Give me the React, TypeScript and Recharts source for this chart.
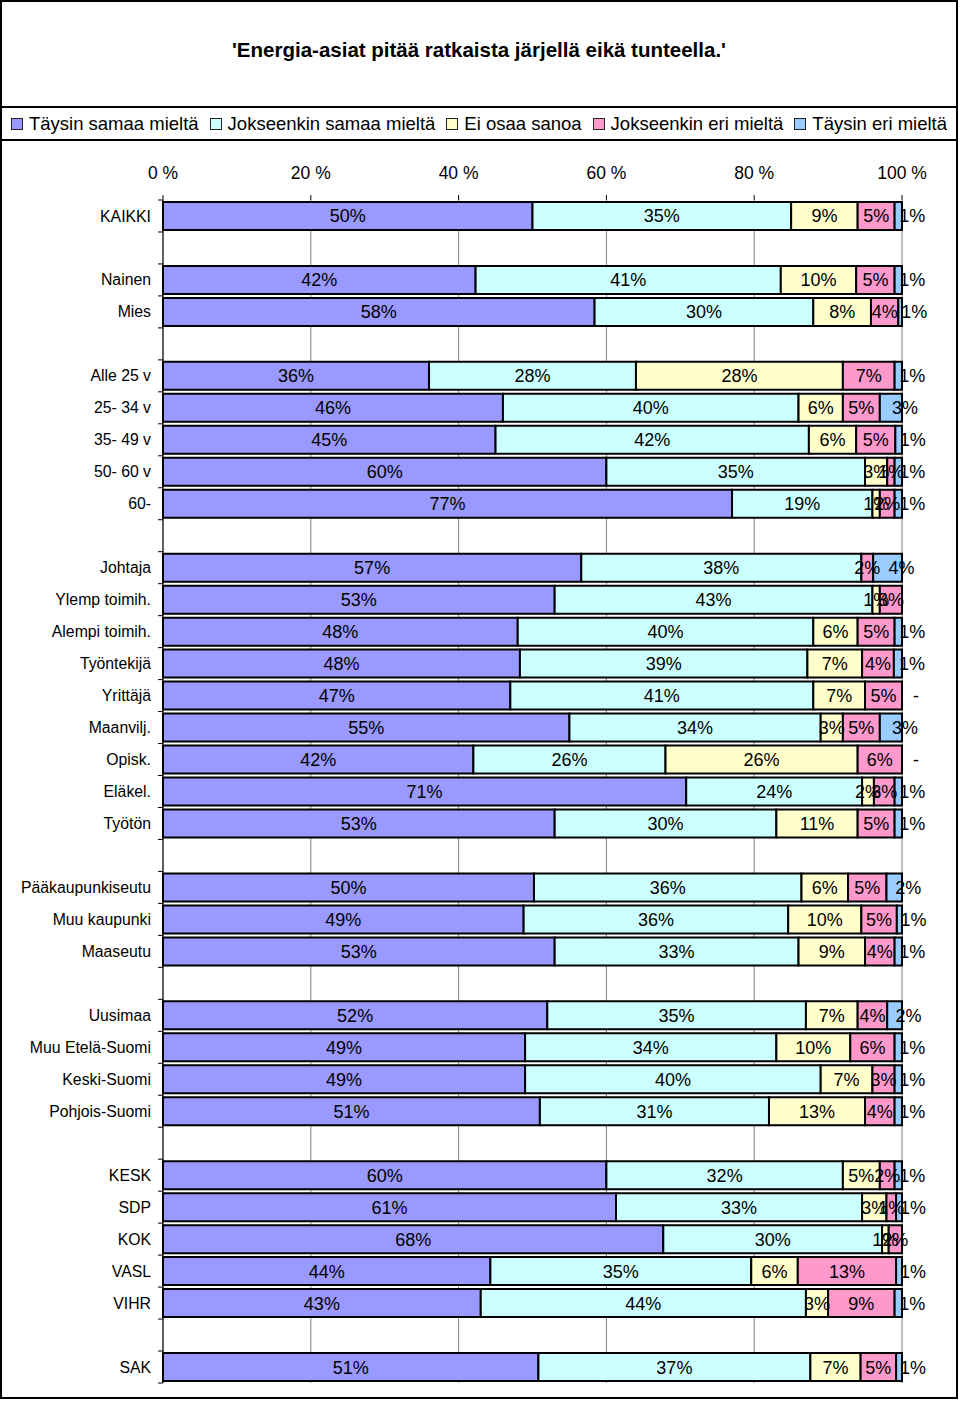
import React from 'react'
import { BarChart, Bar, XAxis, YAxis, CartesianGrid, Legend, LabelList } from 'recharts'

const FONT = '"Liberation Sans", Arial, sans-serif'

const CATEGORIES = [
  'KAIKKI', '',
  'Nainen', 'Mies', '',
  'Alle 25 v', '25- 34 v', '35- 49 v', '50- 60 v', '60-', '',
  'Johtaja', 'Ylemp toimih.', 'Alempi toimih.', 'Työntekijä', 'Yrittäjä', 'Maanvilj.', 'Opisk.', 'Eläkel.', 'Työtön', '',
  'Pääkaupunkiseutu', 'Muu kaupunki', 'Maaseutu', '',
  'Uusimaa', 'Muu Etelä-Suomi', 'Keski-Suomi', 'Pohjois-Suomi', '',
  'KESK', 'SDP', 'KOK', 'VASL', 'VIHR', '',
  'SAK',
]

// shares in %, estimated from the bars (labels show them rounded)
const TAYSIN_SAMAA = [50, null, 42.3, 58.4, null, 36, 46, 45.0, 60, 77, null, 56.6, 53, 48, 48.3, 47, 55, 42, 70.8, 53, null, 50.2, 48.8, 53, null, 52, 49, 49, 51, null, 60, 61.3, 67.7, 44.3, 43, null, 50.8]
const JOKSEENKIN_SAMAA = [35, null, 41.3, 29.6, null, 28, 40, 42.4, 35, 19, null, 37.9, 43, 40, 38.9, 41, 34, 26, 23.8, 30, null, 36.2, 35.8, 33, null, 35, 34, 40, 31, null, 32, 33.3, 29.6, 35.3, 44, null, 36.8]
const EI_OSAA = [9, null, 10.2, 7.8, null, 28, 6, 6.4, 3, 1, null, null, 1, 6, 7.4, 7, 3, 26, 1.6, 11, null, 6.3, 9.9, 9, null, 7, 10, 7, 13, null, 5, 3.3, 0.9, 6.3, 3, null, 6.8]
const JOKSEENKIN_ERI = [5, null, 5.2, 3.7, null, 7, 5, 5.3, 1, 2, null, 1.6, 3, 5, 4.3, 5, 5, 6, 2.8, 5, null, 5.2, 4.8, 4, null, 4, 6, 3, 4, null, 2, 1.3, 1.8, 13.3, 9, null, 4.8]
const TAYSIN_ERI = [1, null, 1.0, 0.5, null, 1, 3, 0.9, 1, 1, null, 3.9, null, 1, 1.1, 0, 3, 0, 1.0, 1, null, 2.1, 0.7, 1, null, 2, 1, 1, 1, null, 1, 0.8, null, 0.8, 1, null, 0.8]

const X_TICKS = [0, 0.2, 0.4, 0.6, 0.8, 1]

const SERIES = [
  { key: 's1', name: 'Täysin samaa mieltä', color: '#9999FF', values: TAYSIN_SAMAA },
  { key: 's2', name: 'Jokseenkin samaa mieltä', color: '#CCFFFF', values: JOKSEENKIN_SAMAA },
  { key: 's3', name: 'Ei osaa sanoa', color: '#FFFFCC', values: EI_OSAA },
  { key: 's4', name: 'Jokseenkin eri mieltä', color: '#FF99CC', values: JOKSEENKIN_ERI },
  { key: 's5', name: 'Täysin eri mieltä', color: '#99CCFF', values: TAYSIN_ERI },
]

const data = CATEGORIES.map((name, i) => {
  const row: any = { key: `r${i}`, name }
  SERIES.forEach((s) => { row[s.key] = s.values[i] })
  return row
})

const CHART_W = 954
const CHART_H = 1289
const MARGIN = { top: 0, right: 54, left: 0, bottom: 14 }
const LEGEND_H = 33
const X_AXIS_H = 59
const PLOT_TOP = MARGIN.top + LEGEND_H + X_AXIS_H
const PLOT_H = CHART_H - MARGIN.bottom - PLOT_TOP
const BAND = PLOT_H / CATEGORIES.length
const LAST_SHIFT = 14

const CategoryTick = (props: any) => {
  const { x, y, payload } = props
  const idx = Number(String(payload.value).slice(1))
  const last = idx === CATEGORIES.length - 1
  return (
    <g>
      <line x1={x - 5} x2={x} y1={y - BAND / 2} y2={y - BAND / 2} stroke="#000" />
      {last && <line x1={x - 5} x2={x} y1={y + BAND / 2} y2={y + BAND / 2} stroke="#000" />}
      <text x={x - 12} y={y} dy="0.35em" textAnchor="end" fontSize={15.8} fontFamily={FONT} fill="#000">
        {CATEGORIES[idx]}
      </text>
    </g>
  )
}

const valueText = (v: number) => (v === 0 ? '-' : `${Math.round(v)}%`)

const makeLabel = (seriesIdx: number) => (p: any) => {
  const vb = p.viewBox && p.viewBox.width !== undefined ? p.viewBox : p
  const { x, y, width, height } = vb
  if (x === undefined || y === undefined) return null
  const cy = y + height / 2
  const row = Math.floor((cy - PLOT_TOP) / BAND)
  const v = SERIES[seriesIdx].values[row]
  if (v === null || v === undefined) return null
  const isLast = seriesIdx === SERIES.length - 1
  // a zero-width last segment draws no bar, so its "-" label hangs off the segment before it
  const nextZero = seriesIdx === SERIES.length - 2 && SERIES[seriesIdx + 1].values[row] === 0
  const common = { dy: '0.36em', textAnchor: 'middle' as const, fontSize: 18, fontFamily: FONT, fill: '#000' }
  return (
    <g>
      <text x={x + width / 2 + (isLast ? LAST_SHIFT : 0)} y={cy} {...common}>
        {valueText(v)}
      </text>
      {nextZero && (
        <text x={x + width + LAST_SHIFT} y={cy} {...common}>
          {valueText(0)}
        </text>
      )}
    </g>
  )
}

const LegendBox = () => (
  <div
    style={{
      height: LEGEND_H,
      boxSizing: 'border-box',
      borderBottom: '2px solid #000',
      display: 'flex',
      alignItems: 'center',
      justifyContent: 'center',
      fontFamily: FONT,
      fontSize: 18.5,
      color: '#000',
      whiteSpace: 'nowrap',
    }}
  >
    {SERIES.map((s, i) => (
      <span key={s.key} style={{ display: 'flex', alignItems: 'center', marginRight: i < SERIES.length - 1 ? 11 : 0 }}>
        <span
          style={{
            display: 'inline-block',
            width: 10,
            height: 10,
            border: '1px solid #222',
            background: s.color,
            marginRight: 6,
          }}
        />
        {s.name}
      </span>
    ))}
  </div>
)

export default function App() {
  return (
    <div
      style={{
        position: 'absolute',
        left: 0,
        top: 0,
        width: 958,
        height: 1399,
        border: '2px solid #000',
        boxSizing: 'border-box',
        background: '#fff',
        fontFamily: FONT,
      }}
    >
      <div
        style={{
          height: 96,
          paddingBottom: 8,
          borderBottom: '2px solid #000',
          display: 'flex',
          alignItems: 'center',
          justifyContent: 'center',
          boxSizing: 'content-box',
          fontSize: 20.5,
          fontWeight: 'bold',
          color: '#000',
        }}
      >
        'Energia-asiat pitää ratkaista järjellä eikä tunteella.'
      </div>
      <BarChart
        width={CHART_W}
        height={CHART_H}
        data={data}
        layout="vertical"
        stackOffset="expand"
        margin={MARGIN}
        barSize={28}
      >
        <Legend verticalAlign="top" align="left" content={<LegendBox />} wrapperStyle={{ left: 0, top: 0, width: CHART_W }} />
        <CartesianGrid horizontal={false} vertical stroke="#808080" />
        <XAxis
          type="number"
          orientation="top"
          domain={[0, 1]}
          ticks={X_TICKS}
          tickFormatter={(v) => `${Math.round(v * 100)} %`}
          height={X_AXIS_H}
          axisLine={false}
          tickSize={5}
          tickMargin={16}
          tickLine={{ stroke: '#000' }}
          tick={{ fontSize: 17.5, fill: '#000', fontFamily: FONT }}
          interval={0}
        />
        <YAxis
          type="category"
          dataKey="key"
          width={161}
          axisLine={{ stroke: '#000' }}
          tickLine={false}
          tickSize={0}
          tickMargin={0}
          tick={<CategoryTick />}
          interval={0}
        />
        {SERIES.map((s, i) => (
          <Bar
            key={s.key}
            dataKey={s.key}
            name={s.name}
            stackId="a"
            fill={s.color}
            stroke="#000"
            strokeWidth={2}
            isAnimationActive={false}
          >
            <LabelList dataKey={s.key} content={makeLabel(i)} />
          </Bar>
        ))}
      </BarChart>
    </div>
  )
}
